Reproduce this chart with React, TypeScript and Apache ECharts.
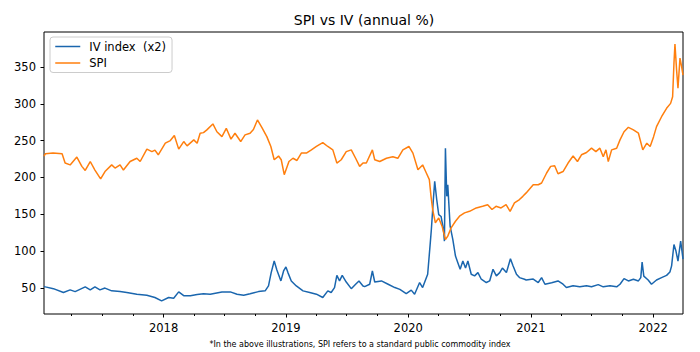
import React, { useEffect, useRef } from "react";
import * as echarts from "echarts";

const spiDates = [
  "2017-01-09","2017-01-13","2017-02-05","2017-03-04","2017-03-13","2017-03-28","2017-04-17","2017-05-02","2017-05-12","2017-05-27",
  "2017-06-10","2017-06-27","2017-07-10","2017-07-30","2017-08-09","2017-08-24","2017-09-03","2017-09-23","2017-10-13","2017-10-23",
  "2017-11-12","2017-11-27","2017-12-06","2017-12-16","2018-01-06","2018-01-21","2018-02-02","2018-02-15","2018-03-02","2018-03-12",
  "2018-04-01","2018-04-11","2018-04-20","2018-04-30","2018-05-10","2018-05-28","2018-06-09","2018-06-24","2018-07-07","2018-07-21",
  "2018-08-02","2018-08-19","2018-09-01","2018-09-16","2018-09-26","2018-10-08","2018-10-21","2018-11-05","2018-11-17","2018-11-27",
  "2018-12-10","2018-12-18","2018-12-27","2019-01-10","2019-01-22","2019-02-03","2019-02-16","2019-03-03","2019-03-18","2019-04-02",
  "2019-04-21","2019-05-06","2019-05-21","2019-06-02","2019-06-15","2019-06-30","2019-07-15","2019-07-28","2019-08-09","2019-08-19",
  "2019-08-29","2019-09-16","2019-09-23","2019-10-08","2019-10-28","2019-11-16","2019-12-01","2019-12-16","2020-01-03","2020-01-15",
  "2020-01-30","2020-02-13","2020-02-24","2020-03-04","2020-03-09","2020-03-14","2020-03-22","2020-04-01","2020-04-11","2020-04-21",
  "2020-04-28","2020-05-08","2020-05-21","2020-06-02","2020-06-17","2020-07-02","2020-07-22","2020-08-10","2020-08-25","2020-09-07",
  "2020-09-19","2020-10-04","2020-10-19","2020-10-31","2020-11-13","2020-11-28","2020-12-08","2020-12-18","2021-01-08","2021-01-23",
  "2021-02-02","2021-02-17","2021-03-01","2021-03-13","2021-03-23","2021-04-07","2021-04-22","2021-05-07","2021-05-20","2021-06-01",
  "2021-06-16","2021-07-01","2021-07-14","2021-07-26","2021-08-05","2021-08-13","2021-08-20","2021-08-30","2021-09-14","2021-09-24",
  "2021-10-06","2021-10-19","2021-11-03","2021-11-18","2021-12-01","2021-12-13","2021-12-23","2022-01-02","2022-01-11","2022-01-26",
  "2022-02-10","2022-02-22","2022-02-28","2022-03-04","2022-03-07","2022-03-12","2022-03-16","2022-03-22","2022-03-27","2022-03-31",
];
const spiValues = [
  229,232,233,232,219.5,217,227.6,215,209.5,221.6,
  210,198,208,217,212.7,217,210,221.6,226,221.6,
  238.4,235,237,230.7,246.5,250,256.8,238.4,248.7,242.8,
  251,246.5,260,260.8,264.5,272.6,262,255.4,266.7,252,
  260,248.7,257.7,260,265,278,268,255.4,242,224,
  229,224,203.7,221.6,226,223,233,233,237.4,242,
  247.3,242,237.4,219.5,224,235,237.4,226,215,219.5,
  219.5,237.4,224,221.6,226,228,226,237.4,242,233,
  210.4,217,206,197,174.3,156.4,138.4,145,133.8,115.8,
  120.3,131.6,140.5,147.3,151.9,154,158.6,160.8,163,156.4,
  160.8,158.6,163,154,165.4,170,174.3,179,190,190,
  192.4,206,215,215.8,205,208,219.5,229,221.6,230.7,
  233.8,239.7,235,239.7,228,237.4,221.6,237.4,239.7,251,
  262,268,264.5,260,237.4,246.5,242,255,269,282.4,
  293.8,300.5,309.5,354.6,381,345,321,362,350,339,
];

const ivDates = [
  "2017-01-09","2017-01-13","2017-02-06","2017-03-08","2017-03-28","2017-04-12","2017-05-12","2017-05-27","2017-06-10","2017-06-25",
  "2017-07-10","2017-07-30","2017-08-24","2017-09-13","2017-10-13","2017-11-12","2017-12-06","2017-12-26","2018-01-16","2018-01-31",
  "2018-02-15","2018-03-02","2018-03-22","2018-04-11","2018-04-30","2018-05-20","2018-06-24","2018-07-19","2018-08-08","2018-08-28",
  "2018-09-16","2018-10-11","2018-10-31","2018-11-10","2018-11-18","2018-11-27","2018-12-05","2018-12-17","2018-12-25","2019-01-01",
  "2019-01-07","2019-01-17","2019-02-01","2019-02-21","2019-03-13","2019-04-02","2019-04-21","2019-05-06","2019-05-16","2019-05-26",
  "2019-06-02","2019-06-10","2019-06-18","2019-06-30","2019-07-15","2019-07-28","2019-08-07","2019-08-19","2019-08-24","2019-09-08",
  "2019-09-16","2019-09-23","2019-10-13","2019-11-02","2019-11-22","2019-12-07","2019-12-26","2020-01-10","2020-01-20","2020-02-04",
  "2020-02-13","2020-02-28","2020-03-06","2020-03-10","2020-03-16","2020-03-20","2020-03-26","2020-04-01","2020-04-08","2020-04-15",
  "2020-04-18","2020-04-21","2020-04-25","2020-04-28","2020-05-05","2020-05-13","2020-05-21","2020-05-28","2020-06-04","2020-06-12",
  "2020-06-20","2020-06-27","2020-07-07","2020-07-17","2020-07-27","2020-08-06","2020-08-21","2020-08-31","2020-09-10","2020-09-20",
  "2020-09-30","2020-10-08","2020-10-20","2020-11-01","2020-11-09","2020-11-19","2020-11-28","2020-12-13","2020-12-18","2021-01-08",
  "2021-01-23","2021-02-02","2021-02-12","2021-03-04","2021-03-23","2021-04-07","2021-04-17","2021-05-07","2021-05-27","2021-06-16",
  "2021-07-01","2021-07-21","2021-08-05","2021-08-25","2021-09-14","2021-09-24","2021-10-06","2021-10-19","2021-11-03","2021-11-18",
  "2021-11-25","2021-11-29","2021-12-04","2021-12-17","2021-12-27","2022-01-11","2022-01-26","2022-02-10","2022-02-20","2022-02-25",
  "2022-03-04","2022-03-10","2022-03-16","2022-03-24","2022-03-28","2022-03-31",
];
const ivValues = [
  52,51.4,49,43.8,47.3,45,51.4,47.3,51.4,47.3,
  49.8,46,45,43.8,41.5,40,37,32.5,37,36,
  44.6,39.5,39.5,41,42,41.5,44.6,44.6,41.5,40,
  42,45,46,52.7,70.8,86.5,74.3,59.5,73,78.4,
  70.8,59.5,52.7,46,43.8,41.5,37,46,43.8,50.5,
  67,59.5,67,58,49,55,59.5,52.7,51.8,55,
  73,58,59.5,55,50.5,48,42.4,47,41.5,57.3,
  50.5,68.5,106.8,129.3,170,194.6,170,149.6,147,129.3,
  113.5,239.7,174.3,190,133.8,115.8,93.2,84.3,75.3,86.5,
  77,86.5,68.5,66.4,70.8,61.8,57.3,59.5,75.3,66.4,
  70.8,77,70.8,89.7,79.7,68.5,64,61.8,60.8,62,
  57.3,64,55,57,59.5,55,50.5,53,51.5,53,
  51.5,54.5,51.5,53,51.5,55,62.7,59.5,61.8,59.5,
  64,85,66,60.8,55,60.8,64,67,71.6,80,
  109,100,86.5,113.5,100,89,
];

const yTickValues = [50, 100, 150, 200, 250, 300, 350];
const yearTickDates = ["2018-01-01", "2019-01-01", "2020-01-01", "2021-01-01", "2022-01-01"];
const quarterTickDates = [
  "2017-04-01","2017-07-01","2017-10-01",
  "2018-04-01","2018-07-01","2018-10-01",
  "2019-04-01","2019-07-01","2019-10-01",
  "2020-04-01","2020-07-01","2020-10-01",
  "2021-04-01","2021-07-01","2021-10-01",
];
const xStart = "2017-01-09";
const xEnd = "2022-03-31";
const yMin = 14.6;
const yMax = 397.4;

const titleText = "SPI vs IV (annual %)";
const footnoteText = "*In the above illustrations, SPI refers to a standard public commodity index";
const ivName = "IV index  (x2)";
const spiName = "SPI";

function ts(s: string): number {
  const [y, m, d] = s.split("-").map(Number);
  return Date.UTC(y, m - 1, d);
}

const FONT = "DejaVu Sans";

export default function App() {
  const ref = useRef<HTMLDivElement>(null);
  useEffect(() => {
    if (!ref.current) return;
    const chart = echarts.init(ref.current, null, { renderer: "svg" });
    const ivData = ivDates.map((d, i) => [ts(d), ivValues[i]]);
    const spiData = spiDates.map((d, i) => [ts(d), spiValues[i]]);
    chart.setOption({
      animation: false,
      backgroundColor: "#ffffff",
      textStyle: { fontFamily: FONT },
      grid: {
        left: 44,
        right: 17,
        top: 32,
        bottom: 38,
        show: true,
        borderColor: "#000000",
        borderWidth: 1,
        backgroundColor: "transparent",
      },
      graphic: [
        {
          type: "text",
          x: 364,
          y: 20,
          style: {
            text: titleText,
            fontFamily: FONT,
            fontSize: 14,
            fill: "#000000",
            textAlign: "center",
            textVerticalAlign: "middle",
          },
        },
        {
          type: "text",
          x: 360,
          y: 344,
          style: {
            text: footnoteText,
            fontFamily: FONT,
            fontSize: 8,
            fill: "#000000",
            textAlign: "center",
            textVerticalAlign: "middle",
          },
        },
      ],
      legend: {
        orient: "vertical",
        left: 50,
        top: 37,
        padding: [3.5, 6, 3.5, 4.5],
        itemGap: 4.5,
        itemWidth: 25,
        itemHeight: 14,
        backgroundColor: "rgba(255,255,255,0.8)",
        borderColor: "#cccccc",
        borderWidth: 1,
        borderRadius: 3,
        itemStyle: { opacity: 0 },
        lineStyle: { width: 1.5 },
        data: [ivName, spiName],
        textStyle: { fontFamily: FONT, fontSize: 11.5, color: "#000000", padding: [0, 0, 0, 4] },
      },
      xAxis: [
        {
          type: "value",
          min: ts(xStart),
          max: ts(xEnd),
          axisLine: { show: false },
          splitLine: { show: false },
          axisTick: {
            show: true,
            length: 3.5,
            lineStyle: { color: "#000000", width: 1 },
            customValues: yearTickDates.map(ts),
          },
          axisLabel: {
            show: true,
            customValues: yearTickDates.map(ts),
            formatter: (v: number) => String(new Date(v).getUTCFullYear()),
            fontFamily: FONT,
            fontSize: 11.5,
            color: "#000000",
            margin: 8,
          },
        },
        {
          type: "value",
          min: ts(xStart),
          max: ts(xEnd),
          position: "bottom",
          axisLine: { show: false },
          splitLine: { show: false },
          axisLabel: { show: false },
          axisTick: {
            show: true,
            length: 2,
            lineStyle: { color: "#000000", width: 1 },
            customValues: quarterTickDates.map(ts),
          },
        },
      ],
      yAxis: {
        type: "value",
        min: yMin,
        max: yMax,
        axisLine: { show: false },
        splitLine: { show: false },
        axisTick: {
          show: true,
          length: 3.5,
          lineStyle: { color: "#000000", width: 1 },
          customValues: yTickValues,
        },
        axisLabel: {
          customValues: yTickValues,
          fontFamily: FONT,
          fontSize: 11.5,
          color: "#000000",
          margin: 8,
        },
      },
      series: [
        {
          name: ivName,
          type: "line",
          xAxisIndex: 0,
          data: ivData,
          symbol: "none",
          showSymbol: false,
          lineStyle: { color: "#1a66ae", width: 1.5 },
          itemStyle: { color: "#1a66ae" },
        },
        {
          name: spiName,
          type: "line",
          xAxisIndex: 0,
          data: spiData,
          symbol: "none",
          showSymbol: false,
          lineStyle: { color: "#ff7f0e", width: 1.5 },
          itemStyle: { color: "#ff7f0e" },
        },
      ],
    });
    return () => chart.dispose();
  }, []);
  return (
    <div
      ref={ref}
      style={{ position: "absolute", left: 0, top: 0, width: 700, height: 352 }}
    />
  );
}
